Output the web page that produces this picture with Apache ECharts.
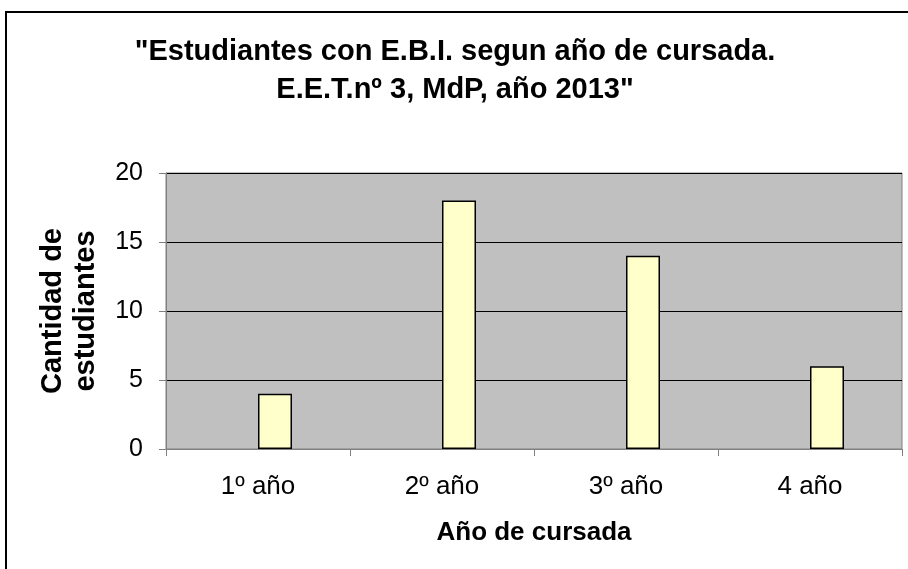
<!DOCTYPE html>
<html>
<head>
<meta charset="utf-8">
<script src="https://cdn.jsdelivr.net/npm/echarts@6/dist/echarts.min.js"></script>
<style>
  html, body { margin: 0; padding: 0; background: #fff; }
  #chart { width: 908px; height: 569px; }
</style>
</head>
<body>
<div id="chart"></div>
<script>
// Data
const years = ['1º año', '2º año', '3º año', '4 año'];
const students = [4, 18, 14, 6];
// empty first series: Excel places the bar right of the category centre
const emptySeries = [null, null, null, null];
const yTicks = [0, 5, 10, 15, 20];

const chart = echarts.init(document.getElementById('chart'));

const font = '"Liberation Sans", Arial, sans-serif';

const options = {
  backgroundColor: '#ffffff',
  animation: false,
  title: {
    text: '"Estudiantes con E.B.I. segun año de cursada.\nE.E.T.nº 3, MdP, año 2013"',
    left: 455, top: 33, textAlign: 'center', padding: 0,
    textStyle: { fontFamily: font, fontWeight: 'bold', fontSize: 29, lineHeight: 38, color: '#000' }
  },
  graphic: [
    {
      type: 'rect',
      shape: { x: 6, y: 12, width: 920, height: 580 },
      style: { fill: 'none', stroke: '#000', lineWidth: 2 },
      silent: true
    }
  ],
  grid: {
    left: 166, top: 173, right: 6, bottom: 120,
    show: true,
    backgroundColor: '#c0c0c0',
    borderColor: '#808080',
    borderWidth: 1
  },
  xAxis: {
    type: 'category',
    data: years,
    name: 'Año de cursada',
    nameLocation: 'middle',
    nameGap: 71,
    nameTextStyle: { fontFamily: font, fontWeight: 'bold', fontSize: 26, color: '#000' },
    axisLine: { lineStyle: { color: '#808080', width: 1 } },
    axisTick: { show: true, length: 7, lineStyle: { color: '#808080' } },
    axisLabel: { fontFamily: font, fontSize: 26, color: '#000', margin: 25 },
    splitLine: { show: false }
  },
  yAxis: {
    type: 'value',
    min: yTicks[0],
    max: yTicks[yTicks.length - 1],
    interval: 5,
    name: 'Cantidad de\nestudiantes',
    nameLocation: 'middle',
    nameGap: 64,
    nameTextStyle: { fontFamily: font, fontWeight: 'bold', fontSize: 29, color: '#000', lineHeight: 33 },
    axisLine: { show: true, lineStyle: { color: '#808080', width: 1 } },
    axisTick: { show: true, length: 7, lineStyle: { color: '#808080' } },
    axisLabel: { fontFamily: font, fontSize: 25, color: '#000', margin: 23 },
    splitLine: { show: true, lineStyle: { color: '#000', width: 1 } }
  },
  series: [
    {
      type: 'bar',
      name: 'empty',
      data: emptySeries,
      barWidth: 34,
      barGap: '0%',
      itemStyle: { color: 'transparent' }
    },
    {
      type: 'bar',
      name: 'Estudiantes',
      data: students,
      barWidth: 34,
      barGap: '0%',
      itemStyle: { color: '#ffffcc', borderColor: '#000', borderWidth: 1.5 }
    }
  ]
};

chart.setOption(options);
</script>
</body>
</html>
